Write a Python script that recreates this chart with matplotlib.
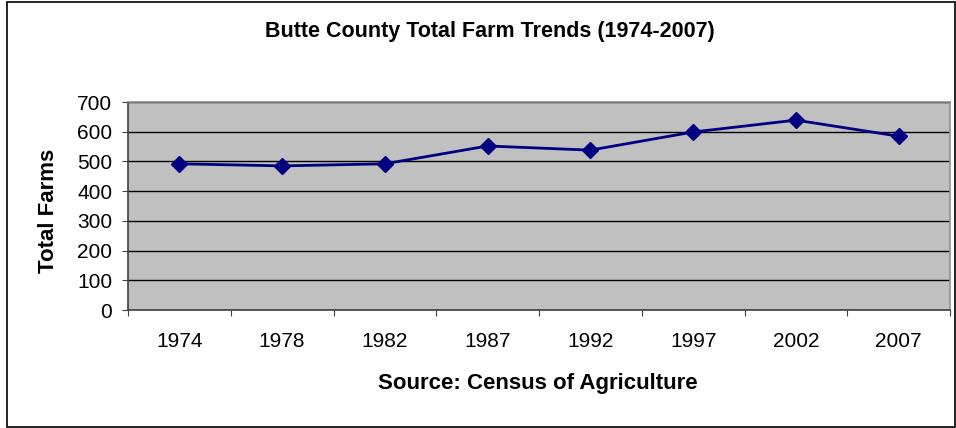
import matplotlib
matplotlib.use("Agg")
import matplotlib.pyplot as plt
from matplotlib.patches import Rectangle

# Butte County farm counts (Census of Agriculture)
years = ["1974", "1978", "1982", "1987", "1992", "1997", "2002", "2007"]
total_farms = [492, 485, 492, 552, 538, 599, 639, 585]
y_ticks = [0, 100, 200, 300, 400, 500, 600, 700]

plt.rcParams['font.family'] = ['Liberation Sans', 'DejaVu Sans']

W, H = 956, 428
fig = plt.figure(figsize=(W / 100, H / 100), dpi=100)

# outer chart frame
fig.patches.append(Rectangle((7 / W, 1 / H), (W - 8) / W, (H - 3) / H,
                             transform=fig.transFigure, fill=False,
                             edgecolor='black', linewidth=1.2))

ax = fig.add_axes([128 / W, (H - 310) / H, 822 / W, 208 / H])
ax.set_facecolor('#C0C0C0')

x = list(range(len(years)))
ax.plot(x, total_farms, color='#000080', linewidth=2, marker='D',
        markersize=8, markerfacecolor='#000080', markeredgecolor='#000080',
        zorder=3)

ax.set_ylim(0, 700)
ax.set_yticks(y_ticks)
ax.set_yticklabels([str(v) for v in y_ticks])
ax.yaxis.grid(True, color='black', linewidth=1)
ax.set_axisbelow(True)

ax.set_xlim(-0.5, len(years) - 0.5)
ax.set_xticks([i - 0.5 for i in range(len(years) + 1)])
ax.set_xticklabels([])
ax.set_xticks(x, minor=True)
ax.set_xticklabels(years, minor=True)
ax.tick_params(axis='x', which='minor', length=0, pad=15.5, labelsize=15)
ax.tick_params(axis='x', which='major', length=4.3, direction='out', color='#404040')
ax.tick_params(axis='y', length=4.3, direction='out', pad=7, labelsize=15, color='#404040')

for side in ['left', 'bottom']:
    ax.spines[side].set_color('#404040')
    ax.spines[side].set_linewidth(1.2)
for side in ['top', 'right']:
    ax.spines[side].set_color('#909090')
    ax.spines[side].set_linewidth(1.2)

fig.text(490 / W, 1 - 31 / H, "Butte County Total Farm Trends (1974-2007)",
         ha='center', va='center', fontsize=15.5, fontweight='bold')
fig.text(48 / W, 1 - 211 / H, "Total Farms", rotation=90,
         ha='center', va='center', fontsize=16, fontweight='bold')
fig.text(538 / W, 1 - 383 / H, "Source: Census of Agriculture",
         ha='center', va='center', fontsize=16, fontweight='bold')

fig.savefig("out.png", dpi=100, facecolor='white')
